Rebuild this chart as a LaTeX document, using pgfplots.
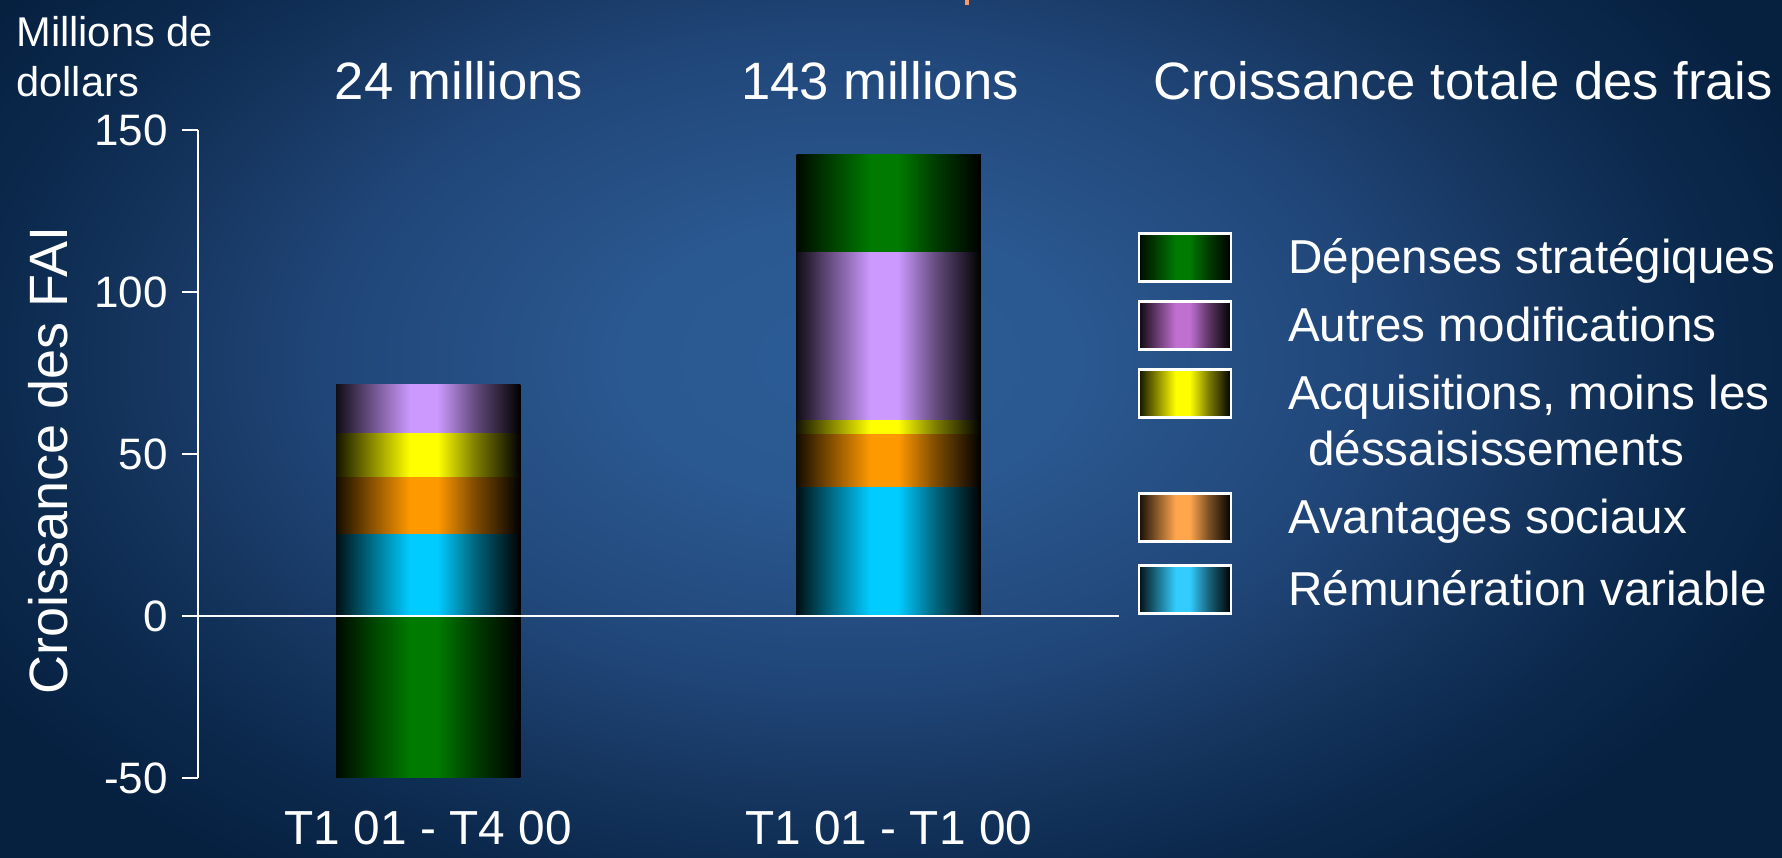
\documentclass[border=0pt]{standalone}
\usepackage{fontspec}
\setmainfont{Liberation Sans}
\usepackage{pgfplots}
\pgfplotsset{compat=1.18}

\definecolor{bgA}{HTML}{2C5C96}
\definecolor{bgE}{HTML}{2A5890}
\definecolor{bgM}{HTML}{21477A}
\definecolor{bgB}{HTML}{163660}
\definecolor{bgD}{HTML}{0C2A4E}
\definecolor{bgC}{HTML}{062040}
\definecolor{cG}{HTML}{007A00}
\definecolor{cP}{HTML}{CC99FF}
\definecolor{cY}{HTML}{FFFF00}
\definecolor{cO}{HTML}{FF9900}
\definecolor{cC}{HTML}{00CCFF}
\definecolor{lP}{HTML}{C070D0}
\definecolor{lO}{HTML}{FFA64D}
\definecolor{lC}{HTML}{33CCFF}
\definecolor{salmon}{HTML}{FF9966}

\pgfdeclareradialshading{bgshade}{\pgfpoint{0bp}{0bp}}{color(0bp)=(bgA); color(2.5bp)=(bgE); color(5.6bp)=(bgM); color(7.75bp)=(bgB); color(9.4bp)=(bgD); color(11.25bp)=(bgC); color(50bp)=(bgC)}

\newcommand\barshading[2]{%
  \pgfdeclarehorizontalshading{#1}{100bp}{color(0bp)=(black); color(25bp)=(#2!8!black); color(35bp)=(#2!55!black); color(45bp)=(#2); color(52.5bp)=(#2); color(62.5bp)=(#2!50!black); color(72.5bp)=(#2!10!black); color(75bp)=(black); color(100bp)=(black)}}
\barshading{barG}{cG}
\barshading{barP}{cP}
\barshading{barY}{cY}
\barshading{barO}{cO}
\barshading{barC}{cC}
\barshading{legG}{cG}
\barshading{legP}{lP}
\barshading{legY}{cY}
\barshading{legO}{lO}
\barshading{legC}{lC}

\pgfplotsset{
  mybar/.style={ybar, bar width=0.4, bar shift=0pt, draw=none, shading=#1},
  myleg/.style={legend image code/.code={%
    \path (0pt,-17pt) -- (0pt,17pt);
    \draw[white, line width=1.2pt, shading=#1] (0pt,-13.1pt) rectangle (46pt,10.9pt);}},
  myleglast/.style={legend image code/.code={%
    \path (0pt,-17pt) -- (0pt,19pt);
    \draw[white, line width=1.2pt, shading=#1] (0pt,-13.1pt) rectangle (46pt,10.9pt);}},
  mylegtwo/.style={legend image code/.code={%
    \path (0pt,-45pt) -- (0pt,17pt);
    \draw[white, line width=1.2pt, shading=#1] (0pt,-13.1pt) rectangle (46pt,10.9pt);}},
}

\begin{document}
\begin{tikzpicture}
\useasboundingbox (0,0) rectangle (891pt,428.5pt);
\fill[bgC] (-5pt,-5pt) rectangle (896pt,433.5pt);
\begin{scope}
\clip (0,0) rectangle (891pt,428.5pt);
\shade[shading=bgshade] (425pt,248.5pt) ellipse [x radius=1130pt, y radius=700pt];
\fill[salmon] (482.5pt,426pt) rectangle (484.5pt,429pt);
\end{scope}
\begin{axis}[
  at={(99pt,39.5pt)}, anchor=south west,
  scale only axis, width=460.5pt, height=324pt,
  xmin=-0.5, xmax=1.5, ymin=-50, ymax=150,
  axis lines*=left,
  x axis line style={draw=none},
  y axis line style={white, line width=1.2pt},
  tick style={white, line width=1.2pt},
  major tick length=8pt, tick align=outside,
  xtick={0,1}, xticklabels={T1 01 - T4 00, T1 01 - T1 00},
  xtick style={draw=none},
  ytick={-50,0,50,100,150},
  yticklabels={-50,0,50,100,150},
  /pgf/number format/assume math mode=true,
  ticklabel style={text=white},
  yticklabel style={font=\fontsize{22}{26}\selectfont, xshift=-3.5pt},
  xticklabel style={font=\fontsize{23.9}{28}\selectfont, anchor=base, inner sep=0pt, yshift=-25pt},
  ylabel={Croissance des FAI},
  every axis y label/.style={at={(axis description cs:-0.1422,0.49)}, rotate=90, anchor=base, text=white, font=\fontsize{27}{32}\selectfont},
  legend style={at={(axis description cs:1.0204,0.8591)}, anchor=north west, draw=none, fill=none, inner sep=0pt, outer sep=0pt, row sep=0pt, column sep=28pt, font=\fontsize{23.8}{28}\selectfont, text=white, nodes={inner sep=0pt}},
  legend cell align=left,
]
% Dépenses stratégiques (green)
\addplot[mybar=barG, myleg=legG] coordinates {(0,-49.7)};
\addlegendentry{\strut Dépenses stratégiques}
\addplot[mybar=barG, forget plot] coordinates {(1,142.3)};
% Autres modifications (purple), top of segment
\addplot[mybar=barP, myleg=legP] coordinates {(0,71.6)};
\addlegendentry{\strut Autres modifications}
\addplot[mybar=barP, forget plot] coordinates {(1,112.3)};
% Acquisitions (yellow)
\addplot[mybar=barY, mylegtwo=legY] coordinates {(0,56.2)};
\addlegendentry{\rlap{\smash{\raisebox{-28pt}{\hspace{10pt}déssaisissements}}}\strut Acquisitions, moins les}
\addplot[mybar=barY, forget plot] coordinates {(1,60.2)};
% Avantages sociaux (orange)
\addplot[mybar=barO, myleg=legO] coordinates {(0,42.7)};
\addlegendentry{\strut Avantages sociaux}
\addplot[mybar=barO, forget plot] coordinates {(1,55.9)};
% Rémunération variable (cyan)
\addplot[mybar=barC, myleglast=legC] coordinates {(0,25.3)};
\addlegendentry{\strut Rémunération variable}
\addplot[mybar=barC, forget plot] coordinates {(1,39.6)};
\draw[white, line width=1.2pt] (axis cs:-0.5,0) -- (axis cs:1.5,0);
\end{axis}
\begin{scope}[every node/.style={text=white, inner sep=0pt}]
\node[anchor=base west, font=\fontsize{20.8}{25}\selectfont] at (8pt,405pt) {Millions de};
\node[anchor=base west, font=\fontsize{20.8}{25}\selectfont] at (8pt,380pt) {dollars};
\node[anchor=base, font=\fontsize{26.3}{31}\selectfont] at (229.5pt,378.5pt) {24 millions};
\node[anchor=base, font=\fontsize{26.3}{31}\selectfont] at (440pt,378.5pt) {143 millions};
\node[anchor=base, font=\fontsize{26.3}{31}\selectfont] at (731.5pt,378.5pt) {Croissance totale des frais};
\end{scope}
\end{tikzpicture}
\end{document}
